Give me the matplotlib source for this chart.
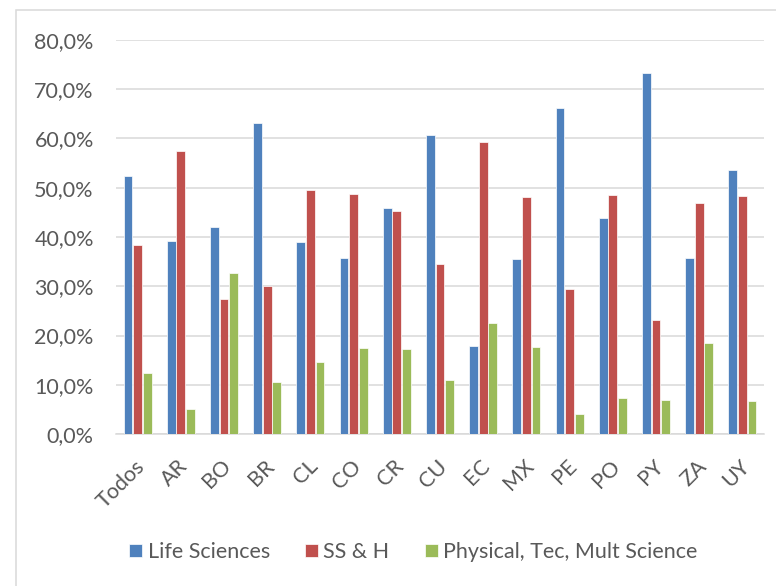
import matplotlib
matplotlib.use("Agg")
import matplotlib.pyplot as plt
import matplotlib.transforms as mtransforms
from matplotlib.patches import Rectangle
from matplotlib.ticker import FuncFormatter
import numpy as np

categories = ["Todos", "AR", "BO", "BR", "CL", "CO", "CR", "CU", "EC", "MX", "PE", "PO", "PY", "ZA", "UY"]
life_sciences = [52.4, 39.2, 42.0, 63.1, 39.0, 35.8, 45.9, 60.7, 17.9, 35.6, 66.2, 43.8, 73.2, 35.8, 53.7]
ss_h = [38.3, 57.5, 27.5, 30.1, 49.5, 48.8, 45.2, 34.6, 59.3, 48.2, 29.5, 48.6, 23.1, 47.0, 48.4]
physical = [12.3, 5.1, 32.7, 10.6, 14.6, 17.5, 17.3, 11.0, 22.5, 17.6, 4.1, 7.4, 7.0, 18.5, 6.8]
series_names = ["Life Sciences", "SS & H", "Physical, Tec, Mult Science"]
colors = ["#4F81BD", "#C0504D", "#9BBB59"]

plt.rcParams['font.family'] = ['Lato', 'DejaVu Sans']

W, H = 776, 586
fig = plt.figure(figsize=(W / 100, H / 100), dpi=100)
ax = fig.add_axes([116 / W, 1 - 434 / H, (764 - 116) / W, (434 - 40) / H])

x = np.arange(len(categories))
bw = 0.205
step = 0.222
for i, (vals, name, c) in enumerate(zip([life_sciences, ss_h, physical], series_names, colors)):
    ax.bar(x + (i - 1) * step, np.array(vals) / 100, width=bw, color=c,
           edgecolor="white", linewidth=0.5, label=name, zorder=3)

fs = 15.5
ax.set_xlim(-0.5, len(categories) - 0.5)
ax.set_ylim(0, 0.8)
ax.set_yticks(np.arange(0, 0.81, 0.1))
ax.yaxis.set_major_formatter(FuncFormatter(lambda v, p: f"{v*100:.1f}%".replace(".", ",")))
ax.grid(axis="y", color="#d9d9d9", linewidth=1.1, zorder=0)
for s in ["top", "right", "left"]:
    ax.spines[s].set_visible(False)
ax.spines["bottom"].set_color("#d9d9d9")
ax.spines["bottom"].set_linewidth(1.1)
ax.tick_params(axis="y", length=0, pad=16, labelsize=fs, labelcolor="#595959")
ax.tick_params(axis="x", length=0, pad=21, labelsize=fs, labelcolor="#595959")
ax.set_xticks(x)
ax.set_xticklabels(categories, rotation=45, ha="right", va="center", rotation_mode="anchor")
offset = mtransforms.ScaledTranslation(4 / 100, 0, fig.dpi_scale_trans)
for lbl in ax.get_xticklabels():
    lbl.set_transform(lbl.get_transform() + offset)

leg = fig.legend(loc="center", bbox_to_anchor=(413.5 / W, 1 - 552 / H), ncol=3, frameon=False,
                 fontsize=fs, handlelength=0.6, handleheight=0.6, handletextpad=0.24,
                 columnspacing=1.65, labelcolor="#595959")

border = Rectangle((16 / W, -0.1), 1.2, 1 - 10 / H + 0.1, transform=fig.transFigure,
                   fill=False, edgecolor="#d9d9d9", linewidth=1.1, clip_on=False)
fig.add_artist(border)

fig.savefig("out.png", dpi=100)
